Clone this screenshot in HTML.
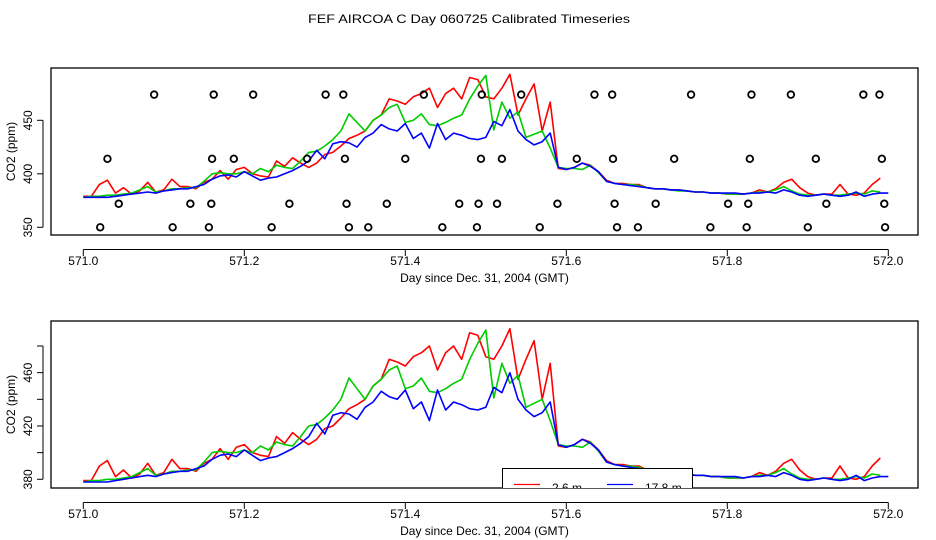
<!DOCTYPE html>
<html><head><meta charset="utf-8"><style>
html,body{margin:0;padding:0;background:#fff;}
svg{display:block;font-family:"Liberation Sans",sans-serif;}
</style></head><body>
<svg id="chart" width="936" height="540" viewBox="0 0 936 540" xmlns="http://www.w3.org/2000/svg">
<defs>
<clipPath id="clipTop"><rect x="51" y="68" width="867" height="167"/></clipPath>
<clipPath id="clipBot"><rect x="51" y="321" width="867" height="167"/></clipPath>
</defs>
<rect width="936" height="540" fill="#fff"/>
<text x="469" y="23" font-size="12" text-anchor="middle" textLength="322" lengthAdjust="spacingAndGlyphs">FEF AIRCOA C  Day 060725  Calibrated Timeseries</text>
<g id="gTop"></g>
<g id="gBot"></g>
</svg>
<script>
const dayStart = 571.0;
const dayStep = 0.01;
const red = [379,379,390,394,382,387,381,384,392,383,385,395,388,388,386,392,395,403,395,404,406,400,398,397,412,407,415,410,406,410,418,420,426,433,436,440,450,455,470,468,465,472,475,480,462,475,480,470,490,488,472,470,480,493,455,470,484,440,467,405,404,406,410,408,402,394,391,391,390,390,387,386,386,385,385,384,383,383,382,382,381,381,381,382,385,383,386,392,395,387,382,380,381,381,390,381,380,382,390,396];
const green = [378,379,379,380,380,381,382,385,388,383,384,386,386,387,387,393,400,401,400,400,402,400,405,402,408,406,405,412,420,421,426,432,440,456,448,440,450,455,462,465,448,450,456,446,445,448,452,455,470,482,492,441,467,452,458,434,437,440,424,406,405,405,404,408,401,393,391,390,390,389,387,386,386,385,384,384,383,383,382,382,381,381,381,382,383,383,385,388,384,381,380,380,381,380,380,381,382,381,384,383];
const blue = [378,378,378,378,379,380,381,382,383,382,384,385,386,386,388,390,395,398,399,397,402,398,394,396,397,400,403,407,412,422,414,428,430,429,425,434,438,446,442,440,447,433,438,424,447,432,438,436,433,432,434,449,445,460,440,432,427,430,438,406,404,406,410,407,402,393,391,390,389,388,387,386,386,385,385,384,383,383,382,382,382,382,381,382,382,383,382,385,383,380,379,380,381,380,379,380,383,379,381,382,382];
const xTicks = [571.0,571.2,571.4,571.6,571.8,572.0];
const xTickLabels = ["571.0","571.2","571.4","571.6","571.8","572.0"];
const topYTicks = [350,400,450];
const botYTicks = [380,400,420,440,460,480];
const botYLabels = ["380","","420","","460",""];
const circ474 = [571.088,571.162,571.211,571.301,571.323,571.423,571.495,571.544,571.635,571.657,571.755,571.830,571.879,571.969,571.989];
const circ414 = [571.030,571.160,571.187,571.278,571.325,571.400,571.494,571.520,571.613,571.658,571.734,571.828,571.910,571.992];
const circ372 = [571.044,571.133,571.159,571.256,571.327,571.377,571.467,571.491,571.514,571.589,571.660,571.711,571.801,571.826,571.923,571.995];
const circ350 = [571.021,571.111,571.156,571.234,571.330,571.354,571.446,571.489,571.567,571.663,571.689,571.779,571.824,571.900,571.996];
const circLevels = [474,414,372,350];
const circSets = [circ474,circ414,circ372,circ350];

const NS = "http://www.w3.org/2000/svg";
function mk(tag, attrs, parent){const e=document.createElementNS(NS,tag);for(const k in attrs)e.setAttribute(k,attrs[k]);parent.appendChild(e);return e;}
function xScale(d){return 83.3 + (d-571.0)*805;}

function panel(g, top, yBase, yBaseVal, ppx, yTicks, yLabels, clip, pfx){
  const yS = v => yBase - (v - yBaseVal)*ppx;
  const frame = mk('rect',{x:51,y:top,width:867,height:167,fill:'none',stroke:'#000','stroke-width':1.3},g);
  
  
  // x axis
  const xa = mk('g',{},g);
  
  
  const bot = top+167;
  mk('line',{x1:xScale(xTicks[0]),x2:xScale(xTicks[xTicks.length-1]),y1:bot+14.5,y2:bot+14.5,stroke:'#000','stroke-width':1},xa);
  xTicks.forEach((t,i)=>{
    const x=xScale(t);
    mk('line',{x1:x,x2:x,y1:bot+14.5,y2:bot+21,stroke:'#000','stroke-width':1},xa);
    const tl = mk('text',{x:x,y:bot+30,'font-size':12,'text-anchor':'middle'},xa);
    tl.textContent = xTickLabels[i];
    
    
  });
  const xt = mk('text',{x:484.5,y:bot+47,'font-size':12,'text-anchor':'middle'},g);
  xt.textContent = 'Day since Dec. 31, 2004 (GMT)';
  
  
  // y axis
  const ya = mk('g',{},g);
  
  
  mk('line',{x1:43,x2:43,y1:yS(yTicks[0]),y2:yS(yTicks[yTicks.length-1]),stroke:'#000','stroke-width':1},ya);
  yTicks.forEach((t,i)=>{
    const y=yS(t);
    mk('line',{x1:37,x2:43,y1:y,y2:y,stroke:'#000','stroke-width':1},ya);
    if(yLabels[i]){
      const tl = mk('text',{x:0,y:0,'font-size':12,'text-anchor':'middle',transform:`translate(32,${y}) rotate(-90)`},ya);
      tl.textContent = yLabels[i];
      
      
    }
  });
  const yt = mk('text',{x:0,y:0,'font-size':12,'text-anchor':'middle',transform:`translate(15,${top+83.5}) rotate(-90)`},g);
  yt.textContent = 'CO2 (ppm)';
  
  
  // series
  const sg = mk('g',{'clip-path':`url(#${clip})`},g);
  const series = [['green',green,'#00cc00'],['red',red,'#ff0000'],['blue',blue,'#0000ff']];
  [series[1],series[0],series[2]].forEach(s=>{
    const pts = s[1].map((v,i)=>xScale(dayStart+i*dayStep).toFixed(1)+','+yS(v).toFixed(1)).join(' ');
    const pl = mk('polyline',{points:pts,fill:'none',stroke:s[2],'stroke-width':1.6,'stroke-linejoin':'round'},sg);
    
    
  });
  return {yS, sg};
}

const gTop = document.getElementById('gTop');
const T = panel(gTop, 68, 227.3, 350, 1.07, topYTicks, ["350","400","450"], 'clipTop', 'top');
circSets.forEach((arr,k)=>{
  arr.forEach(d=>{
    const c = mk('circle',{cx:xScale(d),cy:T.yS(circLevels[k]),r:3.3,fill:'none',stroke:'#000','stroke-width':1.8},T.sg);
    
    
  });
});

const gBot = document.getElementById('gBot');
const B = panel(gBot, 321, 479.3, 380, 1.333, botYTicks, botYLabels, 'clipBot', 'bottom');
// legend (clipped by plot region)
const lg = mk('g',{'clip-path':'url(#clipBot)'},gBot);


mk('rect',{x:502.5,y:468.5,width:190,height:40,fill:'#fff',stroke:'#000','stroke-width':1},lg);
const l1 = mk('line',{x1:514,x2:540,y1:484.5,y2:484.5,stroke:'#ff0000','stroke-width':1.3},lg);


const t1 = mk('text',{x:552,y:492,'font-size':12},lg);
t1.textContent='2.6 m';


const l2 = mk('line',{x1:607,x2:633,y1:484.5,y2:484.5,stroke:'#0000ff','stroke-width':1.3},lg);


const t2 = mk('text',{x:645,y:492,'font-size':12},lg);
t2.textContent='17.8 m';


</script>
</body></html>
